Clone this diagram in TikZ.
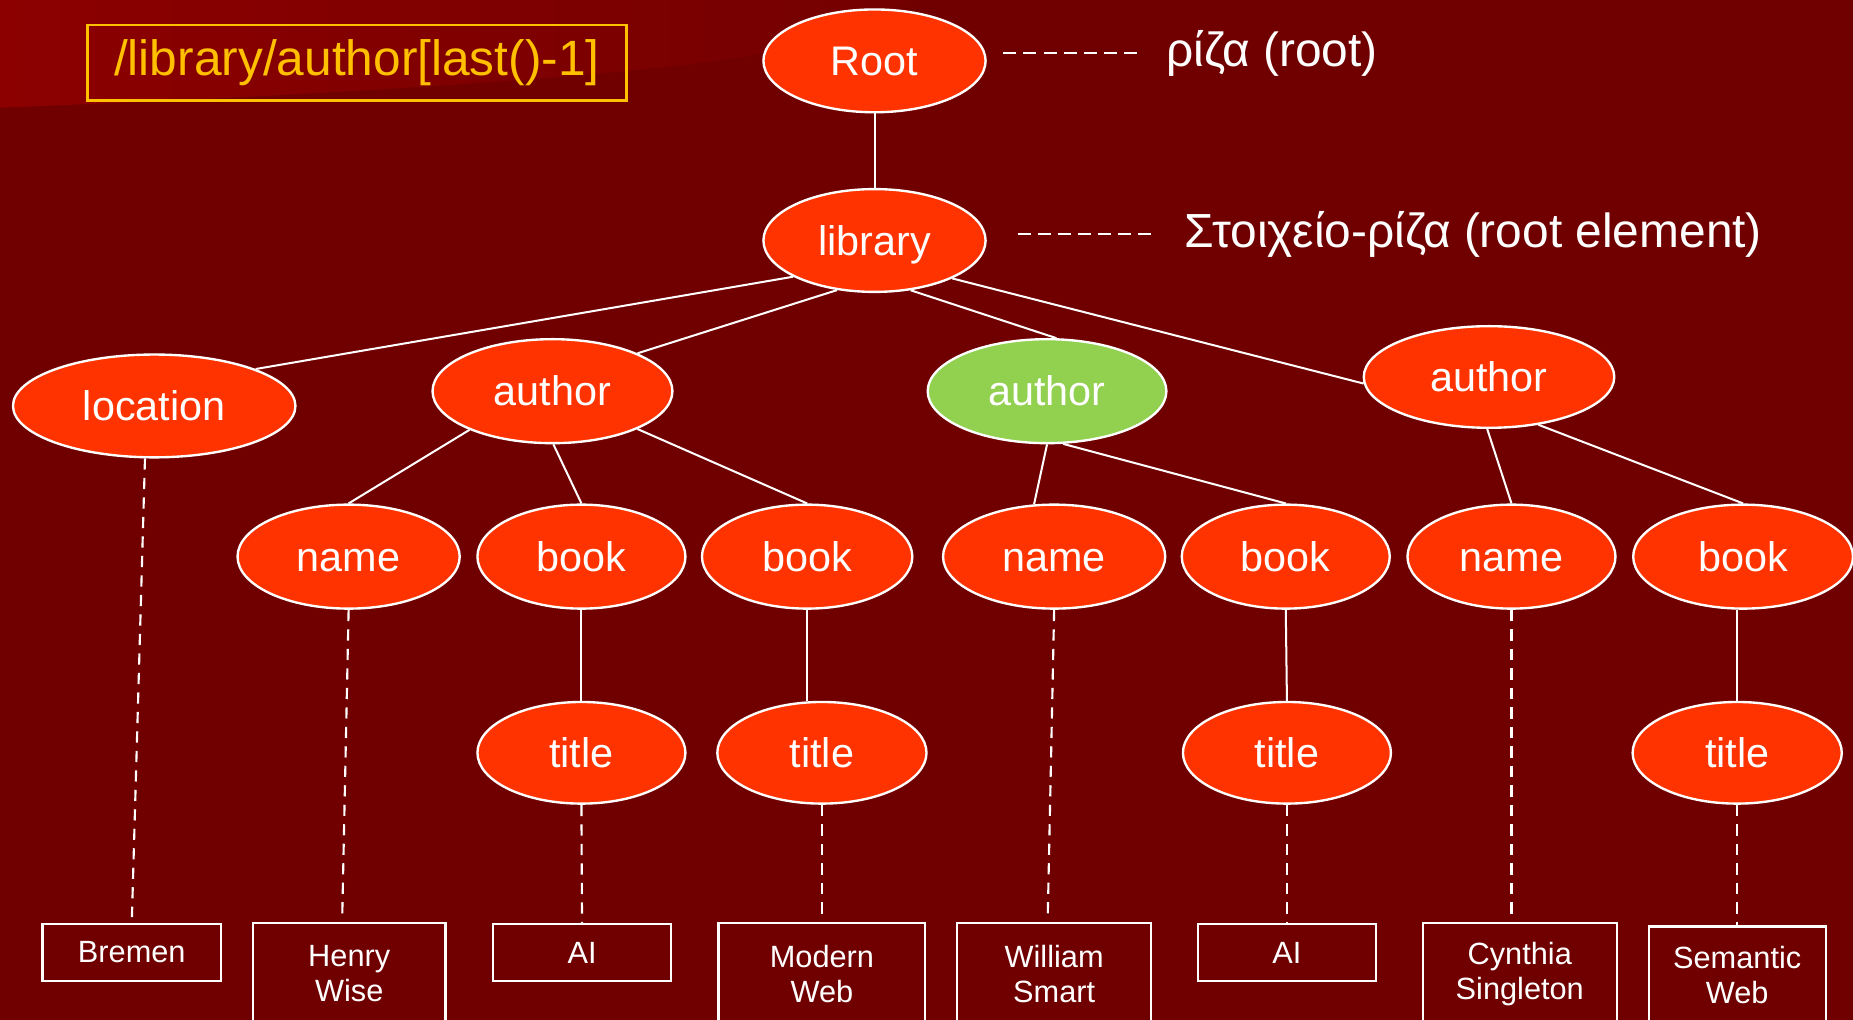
\documentclass[tikz,border=0pt]{standalone}
\usepackage{fontspec}
\setmainfont{Liberation Sans}
\usetikzlibrary{shapes.geometric}
\definecolor{bg}{HTML}{700000}
\definecolor{lite}{HTML}{8C0000}
\definecolor{nodeor}{HTML}{FF3300}
\definecolor{nodegr}{HTML}{92D050}
\definecolor{gold}{HTML}{FFC000}
\begin{document}
\begin{tikzpicture}[x=1pt,y=-1pt,
  el/.style={ellipse, draw=white, line width=2pt, fill=nodeor, text=white, inner sep=0pt, text height=25pt, text depth=0pt, font=\fontsize{35}{40}\selectfont},
  conn/.style={draw=white, line width=1.7pt},
  dline/.style={draw=white, line width=1.8pt, dash pattern=on 9.5pt off 7pt},
  hline/.style={draw=white, line width=1.7pt, dash pattern=on 11pt off 6pt},
  vbox/.style={draw=white, line width=1.8pt, text=white, align=center, inner sep=0pt, font=\fontsize{26}{30}\selectfont},
  lbl/.style={anchor=west, inner sep=0pt, text=white, font=\fontsize{40.5}{48}\selectfont},
]
\useasboundingbox (0,0) rectangle (1568,863);
\fill[bg] (0,0) rectangle (1568,863);
\shade[left color=lite, right color=bg!85!lite] (0,0) -- (0,91) .. controls (300,80) and (560,62) .. (640,46) .. controls (700,30) and (740,15) .. (770,0) -- cycle;
\clip (0,0) rectangle (1568,863);

% XPath box
\node[draw=gold, line width=2pt, minimum width=456pt, minimum height=64pt, text=gold, inner sep=0pt, font=\fontsize{42}{48}\selectfont] (xpath) at (302,53) {/library/author[last()-1]};

% ellipses
\node[el, minimum width=188pt, minimum height=87pt] (root) at (740,51.5) {Root};
\node[el, minimum width=188pt, minimum height=87pt] (library) at (740,203.5) {library};
\node[el, minimum width=239pt, minimum height=87pt] (location) at (130.5,343.5) {location};
\node[el, minimum width=203pt, minimum height=88pt] (a1) at (467.5,331) {author};
\node[el, fill=nodegr, minimum width=202pt, minimum height=88pt] (a2) at (886,331) {author};
\node[el, minimum width=212pt, minimum height=86pt] (a3) at (1260,319) {author};
\node[el, minimum width=188pt, minimum height=88pt] (n1) at (295,471) {name};
\node[el, minimum width=176pt, minimum height=88pt] (b1) at (492,471) {book};
\node[el, minimum width=178pt, minimum height=88pt] (b2) at (683,471) {book};
\node[el, minimum width=188pt, minimum height=88pt] (n2) at (892,471) {name};
\node[el, minimum width=176pt, minimum height=88pt] (b3) at (1088,471) {book};
\node[el, minimum width=176pt, minimum height=88pt] (n3) at (1279,471) {name};
\node[el, minimum width=186pt, minimum height=88pt] (b4) at (1475,471) {book};
\node[el, minimum width=176pt, minimum height=86pt] (t1) at (492,637) {title};
\node[el, minimum width=177pt, minimum height=86pt] (t2) at (695.5,637) {title};
\node[el, minimum width=176pt, minimum height=86pt] (t3) at (1089,637) {title};
\node[el, minimum width=177pt, minimum height=86pt] (t4) at (1470,637) {title};

% value boxes
\node[vbox, minimum width=151pt, minimum height=48pt] (bremen) at (111.5,806) {Bremen};
\node[vbox, minimum width=163pt, minimum height=86pt] (henry) at (295.5,824) {Henry\\Wise};
\node[vbox, minimum width=150pt, minimum height=48pt, text height=19pt, text depth=0pt] (ai1) at (492.5,806) {AI};
\node[vbox, minimum width=175pt, minimum height=86pt] (modern) at (695.5,824) {Modern\\Web};
\node[vbox, minimum width=164pt, minimum height=86pt] (william) at (892,824) {William\\Smart};
\node[vbox, minimum width=151pt, minimum height=48pt, text height=19pt, text depth=0pt] (ai2) at (1089,806) {AI};
\node[vbox, minimum width=164pt, minimum height=86pt] (cynthia) at (1286,824) {Cynthia\\Singleton};
\node[vbox, minimum width=150pt, minimum height=82pt] (semantic) at (1470,825) {Semantic\\Web};

% side labels
\node[lbl] (rootlbl) at (987,45) {ρίζα (root)};
\node[lbl] (liblbl) at (1002.5,198) {Στοιχείο-ρίζα (root element)};
\draw[hline, shorten <=14pt, shorten >=25pt] (rootlbl.west -| root.east) -- (rootlbl.west);
\draw[hline, shorten <=26pt, shorten >=27pt] (liblbl.west -| library.east) -- (liblbl.west);

% tree connectors
\draw[conn] (root.south) -- (library.north);
\draw[conn] (library.204) -- (location.20);
\draw[conn] (library.233) -- (a1.24);
\draw[conn] (library.306) -- (a2.80);
\draw[conn] (library.334) -- (a3.183);
\draw[conn] (a1.205) -- (n1.north);
\draw[conn] (a1.271) -- (b1.north);
\draw[conn] (a1.336) -- (b2.north);
\draw[conn] (a2.south) -- (n2.111);
\draw[conn] (a2.287) -- (b3.north);
\draw[conn] (a3.268) -- (n3.north);
\draw[conn] (a3.316) -- (b4.north);
\draw[conn] (b1.south) -- (t1.north);
\draw[conn] (b2.south) -- (b2.south |- t2.north);
\draw[conn] (b3.south) -- (t3.north);
\draw[conn] (t4.north |- b4.south) -- (t4.north);

% value connectors
\draw[dline, shorten >=5pt] (location.260) -- (bremen.north);
\draw[dline, shorten >=6pt] (n1.south) -- ([xshift=-6pt]henry.north);
\draw[dline] (t1.south) -- (ai1.north);
\draw[dline] (t2.south) -- (modern.north);
\draw[dline, shorten >=6pt] (n2.south) -- ([xshift=-5.5pt]william.north);
\draw[dline] (t3.south) -- (ai2.north);
\draw[dline, shorten >=5pt] (n3.south) -- (n3.south |- cynthia.north);
\draw[dline] (t4.south) -- (semantic.north);
\end{tikzpicture}
\end{document}
